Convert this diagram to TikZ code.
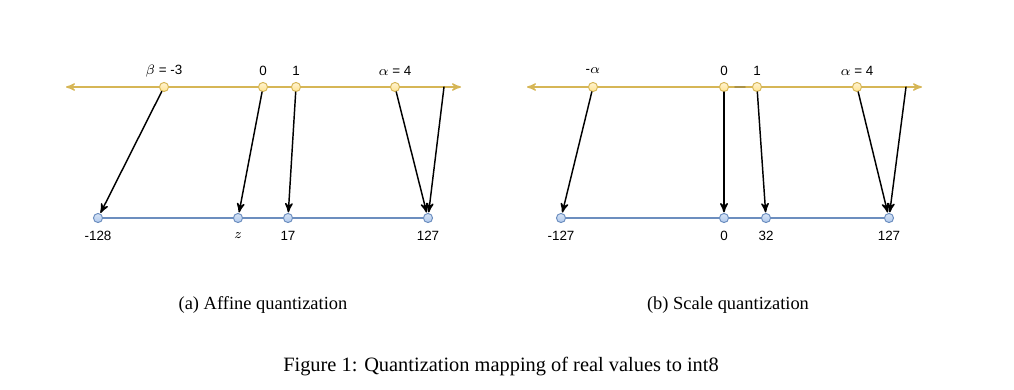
\documentclass[tikz,border=0pt]{standalone}
\usepackage{fontspec}
\setmainfont{Liberation Serif}
\newfontfamily\lblfont{Liberation Sans}
\usetikzlibrary{arrows}
\definecolor{realline}{HTML}{D6B656}
\definecolor{realfill}{HTML}{FFE38F}
\definecolor{intline}{HTML}{6C8EBF}
\definecolor{intfill}{HTML}{AFC8EC}

\begin{document}
\begin{tikzpicture}[line cap=round,line join=round,>=stealth',x=0.515pt,y=-0.515pt]
\tikzset{
  realdot/.style={circle,draw=realline,top color=realfill!40,bottom color=realfill,line width=0.5pt,minimum size=4.7pt,inner sep=0pt},
  intdot/.style={circle,draw=intline,top color=intfill!50,bottom color=intfill,line width=0.5pt,minimum size=4.7pt,inner sep=0pt},
  lbl/.style={font=\lblfont\fontsize{6.9}{8}\selectfont,inner sep=0pt},
  maparrow/.style={->,line width=0.75pt,shorten >=0.3pt},
  subcap/.style={font=\fontsize{9.5}{12}\selectfont,inner sep=0pt},
  figcap/.style={font=\fontsize{10.5}{12}\selectfont,inner sep=0pt}
}
\useasboundingbox (0,0) rectangle (1014,389);

%(a) reals:
\draw[<->,color=realline,line width=0.7pt] (66,87) -- (461,87);
\foreach \x/\n in {164/b,263/z,296/o,395/a}
  {\node[realdot] (A\n) at (\x,87) {};}
\coordinate (Ae) at (444,87);
\node[lbl] (Albl1) at (164,71) {$\beta$ = -3};
\node[lbl] (Albl2) at (263,71) {0};
\node[lbl] (Albl3) at (296,71) {1};
\node[lbl] (Albl4) at (395,71) {$\alpha$ = 4};

%(a) int8:
\draw[color=intline,line width=0.7pt] (98,218) -- (428,218);
\foreach \x/\n in {98/m,238/z,288/o,428/M}
  {\node[intdot] (Aq\n) at (\x,218) {};}
\node[lbl] (Aqlbl1) at (98,236) {-128};
\node[lbl] (Aqlbl2) at (238,236) {$z$};
\node[lbl] (Aqlbl3) at (288,236) {17};
\node[lbl] (Aqlbl4) at (428,236) {127};

% mapping (a)
\draw[maparrow] (Ab) -- (Aqm);
\draw[maparrow] (Az) -- (Aqz);
\draw[maparrow] (Ao) -- (Aqo);
\draw[maparrow] (Aa) -- (AqM);
\draw[maparrow] (Ae) -- (AqM);

%(b) reals:
\draw[<->,color=realline,line width=0.7pt] (527,87) -- (922,87);
\draw[color=realline!80!black,line width=0.9pt] (735,87) -- (745,87);
\foreach \x/\n in {593/b,724/z,757/o,857/a}
  {\node[realdot] (B\n) at (\x,87) {};}
\coordinate (Be) at (906,87);
\node[lbl] (Blbl1) at (593,71) {-$\alpha$};
\node[lbl] (Blbl2) at (724,71) {0};
\node[lbl] (Blbl3) at (757,71) {1};
\node[lbl] (Blbl4) at (857,71) {$\alpha$ = 4};

%(b) int8:
\draw[color=intline,line width=0.7pt] (561,218) -- (889,218);
\foreach \x/\n in {561/m,724/z,766/o,889/M}
  {\node[intdot] (Bq\n) at (\x,218) {};}
\node[lbl] (Bqlbl1) at (561,236) {-127};
\node[lbl] (Bqlbl2) at (724,236) {0};
\node[lbl] (Bqlbl3) at (766,236) {32};
\node[lbl] (Bqlbl4) at (889,236) {127};

% mapping (b)
\draw[maparrow] (Bb) -- (Bqm);
\draw[maparrow] (Bz) -- (Bqz);
\draw[maparrow] (Bo) -- (Bqo);
\draw[maparrow] (Ba) -- (BqM);
\draw[maparrow] (Be) -- (BqM);

% captions
\node[subcap] (capa) at (263,305) {(a) Affine quantization};
\node[subcap] (capb) at (728,305) {(b) Scale quantization};
\node[figcap] (capfig) at (501,367) {Figure 1: Quantization mapping of real values to int8};

\end{tikzpicture}
\end{document}
